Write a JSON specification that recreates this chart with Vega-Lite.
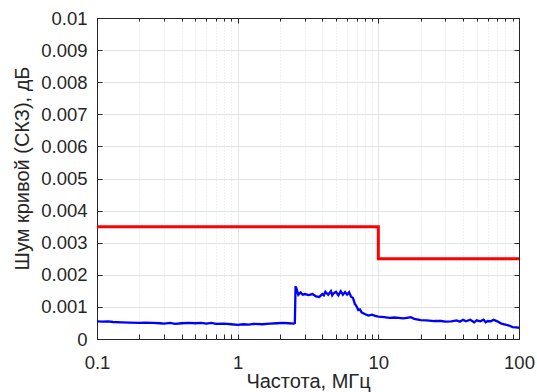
{
  "$schema": "https://vega.github.io/schema/vega-lite/v6.json",
  "width": 422,
  "height": 321,
  "autosize": {"type": "none"},
  "padding": {"left": 97, "top": 18, "right": 18, "bottom": 53},
  "background": "white",
  "config": {
    "font": "Liberation Sans",
    "view": {"stroke": "#262626", "strokeWidth": 1},
    "axis": {
      "domainColor": "#262626",
      "tickColor": "#262626",
      "labelColor": "#262626",
      "titleColor": "#262626",
      "labelFont": "Liberation Sans",
      "titleFont": "Liberation Sans",
      "labelFontSize": 18.5,
      "titleFontSize": 20,
      "titleFontWeight": "normal",
      "gridColor": "#e3e3e3",
      "gridWidth": 1
    }
  },
  "datasets": {
    "limit": [
      {"f": 0.1, "v": 0.0035},
      {"f": 10, "v": 0.0035},
      {"f": 10, "v": 0.0025},
      {"f": 100, "v": 0.0025}
    ],
    "noise": [
      {"f": 0.1, "v": 0.00055}, {"f": 0.11, "v": 0.00054}, {"f": 0.12, "v": 0.00055}, {"f": 0.13, "v": 0.00053},
      {"f": 0.15, "v": 0.00052}, {"f": 0.17, "v": 0.00051}, {"f": 0.2, "v": 0.0005}, {"f": 0.22, "v": 0.00051},
      {"f": 0.25, "v": 0.0005}, {"f": 0.28, "v": 0.00049}, {"f": 0.3, "v": 0.00048}, {"f": 0.33, "v": 0.0005},
      {"f": 0.36, "v": 0.00047}, {"f": 0.4, "v": 0.00049}, {"f": 0.45, "v": 0.0005}, {"f": 0.5, "v": 0.00049},
      {"f": 0.55, "v": 0.0005}, {"f": 0.6, "v": 0.00048}, {"f": 0.65, "v": 0.0005}, {"f": 0.7, "v": 0.00047},
      {"f": 0.8, "v": 0.00048}, {"f": 0.9, "v": 0.00046}, {"f": 1.0, "v": 0.00044}, {"f": 1.1, "v": 0.00046},
      {"f": 1.2, "v": 0.00045}, {"f": 1.3, "v": 0.00047}, {"f": 1.5, "v": 0.00046}, {"f": 1.7, "v": 0.00048},
      {"f": 1.9, "v": 0.00049}, {"f": 2.1, "v": 0.0005}, {"f": 2.3, "v": 0.00049}, {"f": 2.5, "v": 0.00048},
      {"f": 2.55, "v": 0.0005}, {"f": 2.58, "v": 0.00165}, {"f": 2.62, "v": 0.00142}, {"f": 2.65, "v": 0.0015},
      {"f": 2.7, "v": 0.00138}, {"f": 2.8, "v": 0.00145}, {"f": 2.9, "v": 0.00138}, {"f": 3.0, "v": 0.0014},
      {"f": 3.2, "v": 0.00137}, {"f": 3.4, "v": 0.0014}, {"f": 3.6, "v": 0.00133}, {"f": 3.8, "v": 0.00131},
      {"f": 4.0, "v": 0.0014}, {"f": 4.1, "v": 0.00136}, {"f": 4.2, "v": 0.00147}, {"f": 4.4, "v": 0.00138},
      {"f": 4.6, "v": 0.00149}, {"f": 4.7, "v": 0.00136}, {"f": 4.8, "v": 0.00142}, {"f": 5.0, "v": 0.00147},
      {"f": 5.2, "v": 0.00136}, {"f": 5.4, "v": 0.00149}, {"f": 5.6, "v": 0.00138}, {"f": 5.8, "v": 0.00146},
      {"f": 6.0, "v": 0.00138}, {"f": 6.2, "v": 0.00146}, {"f": 6.4, "v": 0.00132}, {"f": 6.6, "v": 0.00128},
      {"f": 6.8, "v": 0.0011}, {"f": 7.0, "v": 0.00102}, {"f": 7.2, "v": 0.0009}, {"f": 7.4, "v": 0.00092},
      {"f": 7.6, "v": 0.00083}, {"f": 8.0, "v": 0.00078}, {"f": 8.5, "v": 0.00073}, {"f": 9.0, "v": 0.00076},
      {"f": 9.5, "v": 0.00072}, {"f": 10, "v": 0.0007}, {"f": 11, "v": 0.00068}, {"f": 12, "v": 0.00066},
      {"f": 13, "v": 0.00067}, {"f": 14, "v": 0.00066}, {"f": 15, "v": 0.00064}, {"f": 16, "v": 0.00066},
      {"f": 17, "v": 0.00068}, {"f": 18, "v": 0.00063}, {"f": 20, "v": 0.00059}, {"f": 22, "v": 0.00058},
      {"f": 25, "v": 0.00056}, {"f": 28, "v": 0.00056}, {"f": 30, "v": 0.00054}, {"f": 33, "v": 0.00055},
      {"f": 36, "v": 0.00058}, {"f": 38, "v": 0.00054}, {"f": 40, "v": 0.0006}, {"f": 42, "v": 0.00055},
      {"f": 45, "v": 0.0006}, {"f": 48, "v": 0.00052}, {"f": 50, "v": 0.00058}, {"f": 53, "v": 0.00055},
      {"f": 56, "v": 0.0006}, {"f": 58, "v": 0.00052}, {"f": 60, "v": 0.00056}, {"f": 63, "v": 0.00055},
      {"f": 66, "v": 0.0006}, {"f": 70, "v": 0.00055}, {"f": 75, "v": 0.00048}, {"f": 80, "v": 0.00045},
      {"f": 85, "v": 0.00042}, {"f": 90, "v": 0.00037}, {"f": 95, "v": 0.00036}, {"f": 100, "v": 0.00035}
    ]
  },
  "layer": [
    {
      "data": {"name": "limit"},
      "mark": {"type": "line", "color": "#ff0000", "strokeWidth": 3, "interpolate": "linear"},
      "encoding": {
        "x": {
          "field": "f", "type": "quantitative",
          "scale": {"type": "log", "domain": [0.1, 100]},
          "axis": {
            "title": "Частота, МГц",
            "values": [0.1, 0.2, 0.3, 0.4, 0.5, 0.6, 0.7, 0.8, 0.9, 1, 2, 3, 4, 5, 6, 7, 8, 9, 10, 20, 30, 40, 50, 60, 70, 80, 90, 100],
            "labelExpr": "indexof([0.1, 1, 10, 100], datum.value) >= 0 ? datum.label : ''",
            "format": "~g",
            "grid": true,
            "gridDash": {"condition": {"test": "indexof([0.1, 1, 10, 100], datum.value) >= 0", "value": []}, "value": [1, 2]},
            "tickSize": -5,
            "labelPadding": 19,
            "titleY": 32,
            "titleBaseline": "top",
            "labelFlush": false,
            "labelOverlap": false
          }
        },
        "y": {
          "field": "v", "type": "quantitative",
          "scale": {"domain": [0, 0.01], "nice": false},
          "axis": {
            "title": "Шум кривой (СКЗ), дБ",
            "values": [0, 0.001, 0.002, 0.003, 0.004, 0.005, 0.006, 0.007, 0.008, 0.009, 0.01],
            "format": ".3~f",
            "grid": true,
            "tickSize": -5,
            "labelPadding": 15,
            "titleX": -75,
            "titleY": 150,
            "titleBaseline": "middle",
            "titleAngle": -90,
            "titleAlign": "center",
            "labelFlush": false,
            "labelOverlap": false
          }
        }
      }
    },
    {
      "data": {"name": "noise"},
      "mark": {"type": "line", "color": "#0000ff", "strokeWidth": 2.3},
      "encoding": {
        "x": {
          "field": "f", "type": "quantitative",
          "scale": {"type": "log", "domain": [0.1, 100]},
          "axis": {
            "orient": "top", "title": null, "labels": false, "grid": false,
            "values": [0.1, 0.2, 0.3, 0.4, 0.5, 0.6, 0.7, 0.8, 0.9, 1, 2, 3, 4, 5, 6, 7, 8, 9, 10, 20, 30, 40, 50, 60, 70, 80, 90, 100],
            "tickSize": {"condition": {"test": "indexof([0.1, 1, 10, 100], datum.value) >= 0", "value": -5}, "value": -3}
          }
        },
        "y": {
          "field": "v", "type": "quantitative",
          "scale": {"domain": [0, 0.01], "nice": false},
          "axis": {
            "orient": "right", "title": null, "labels": false, "grid": false,
            "values": [0, 0.001, 0.002, 0.003, 0.004, 0.005, 0.006, 0.007, 0.008, 0.009, 0.01],
            "tickSize": -5
          }
        }
      }
    }
  ],
  "resolve": {"axis": {"x": "independent", "y": "independent"}}
}
